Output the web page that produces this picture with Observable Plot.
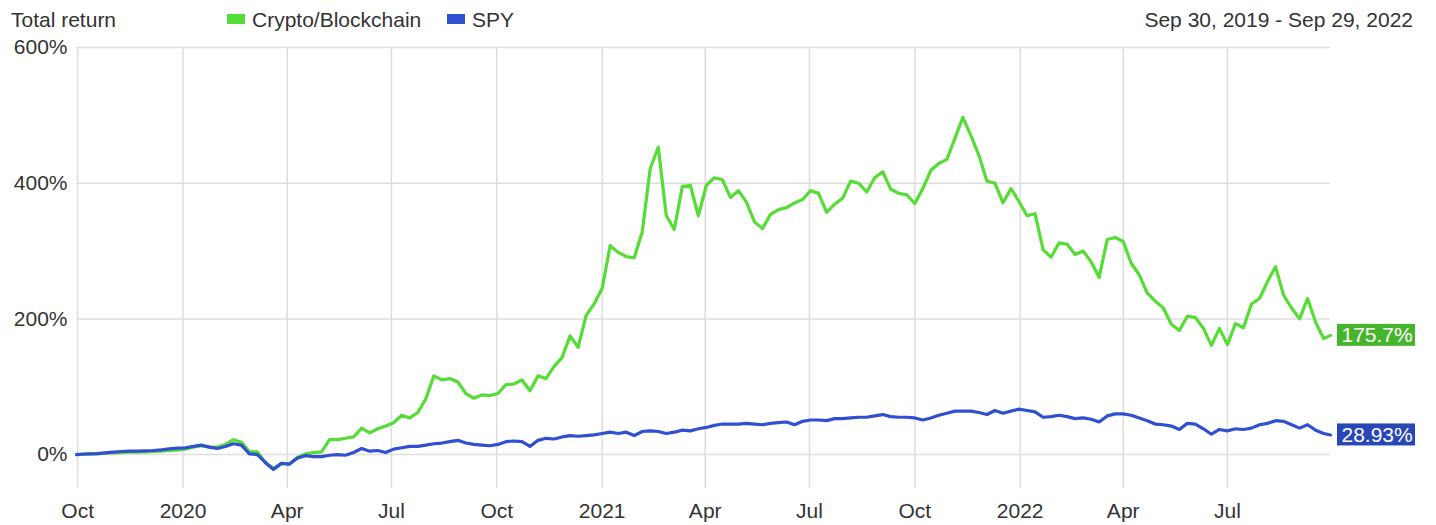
<!DOCTYPE html>
<html><head><meta charset="utf-8">
<script src="https://cdn.jsdelivr.net/npm/d3@7"></script>
<script src="https://cdn.jsdelivr.net/npm/@observablehq/plot@0.6"></script>
<style>
body{margin:0;background:#fff;font-family:"Liberation Sans",Arial,sans-serif;}
#wrap{width:1436px;height:525px;position:relative;overflow:hidden;background:#fff}
#header{position:relative;height:36px;width:1436px;color:#333;font-size:21px;line-height:21px}
#header span{position:absolute;white-space:nowrap}
.sw{width:18px;height:10px;top:14px}
</style></head><body>
<div id="wrap">
<div id="header">
<span style="left:11px;top:9px">Total return</span>
<span class="sw" style="left:227px;background:#55dd36"></span>
<span style="left:252px;top:9px">Crypto/Blockchain</span>
<span class="sw" style="left:447px;background:#3050d2"></span>
<span style="left:472px;top:9px">SPY</span>
<span style="right:23px;top:9px">Sep 30, 2019 - Sep 29, 2022</span>
</div>
<div id="chart"></div>
</div>
<script>
// Series names and colours
const seriesNames = ["Crypto/Blockchain", "SPY"];
const lineColors = ["#55dd36", "#3050d2"];
const labelColors = ["#47b52c", "#2946b6"];

// Weekly dates: start, Friday closes, final day
const startDate = "2019-09-30";
const endDate = "2022-09-29";
const dates = [new Date(startDate),
  ...d3.utcFriday.range(new Date("2019-10-04"), new Date("2022-09-24")),
  new Date(endDate)];

// Total return (%)
const crypto = [
0,
0.5,1,1,2,2.5,3,3.5,3.5,4,4.5,5,6,
6.5,8,11,13,11,11,15,22,18,4,4,-12,
-20,-13,-14,-4,1,3,4,22,22,24,26,39,
32,38,42,47,58,54,62,82,116,110,112,107,
90,83,88,87,90,103,104,110,94,116,112,130,
143,175,158,205,222,245,308,298,292,290,328,422,
453,352,332,395,397,352,397,408,405,379,389,372,
343,333,354,361,364,371,376,389,385,357,369,378,
403,400,387,408,417,391,385,383,370,392,419,429,
435,466,497,470,441,403,400,371,392,373,352,355,
302,291,312,310,295,300,284,261,317,320,314,282,
265,238,226,216,192,183,204,202,186,161,186,162,
193,187,222,230,255,277,235,216,200,230,195,171,
175.7
];
const spy = [
0,
0.5,1,1.5,2.5,3.5,4.5,5,5,5.5,6,7,8.5,
9.5,10,12,14,11,9,12,16,14,1,0,-12,
-22,-13,-14,-5,-1.5,-3,-3,-1,0,-1,3,9,
5,6,3,8,10,12,12,14,16,17,19,21,
17,15,14,13,15,19,20,19,12,21,24,23,
26,28,27,28,29,31,33,31,33,28,34,35,
34,31,33,36,35,38,40,43,45,45,45,46,
45,44,46,47,48,44,49,51,51,50,53,53,
54,55,55,57,59,56,55,55,54,51,54,58,
61,64,64,64,62,59,65,61,64,67,65,63,
55,56,58,56,53,54,52,48,57,60,60,58,
54,50,45,44,42,37,46,45,38,30,37,35,
38,37,39,44,46,50,49,44,39,44,36,31,
28.93
];
const endLabels = ["175.7%", "28.93%"];

// Axis ticks
const xTickDates = ["2019-10-01","2020-01-01","2020-04-01","2020-07-01","2020-10-01","2021-01-01","2021-04-01","2021-07-01","2021-10-01","2022-01-01","2022-04-01","2022-07-01"];
const xTickLabels = ["Oct","2020","Apr","Jul","Oct","2021","Apr","Jul","Oct","2022","Apr","Jul"];
const yTicks = [0, 200, 400, 600];
const yDomain = [-50, 600];

const xTicks = xTickDates.map(d => new Date(d));
const labelOf = new Map(xTicks.map((d, i) => [+d, xTickLabels[i]]));

const values = [crypto, spy];
const rows = [];
values.forEach((vals, s) => vals.forEach((v, i) => rows.push({date: dates[i], value: v, series: seriesNames[s]})));
const lastRows = values.map((vals, s) => ({date: dates[dates.length - 1], value: vals[vals.length - 1], series: seriesNames[s], label: endLabels[s], color: labelColors[s]}));

const chart = Plot.plot({
  width: 1436,
  height: 489,
  marginTop: 11,
  marginBottom: 37,
  marginLeft: 76,
  marginRight: 106,
  style: {fontFamily: '"Liberation Sans", Arial, sans-serif', fontSize: "21px", color: "#333", background: "#fff", overflow: "visible"},
  x: {type: "utc", domain: [new Date(startDate), new Date(endDate)], ticks: xTicks, tickFormat: d => labelOf.get(+d), tickSize: 0, tickPadding: 15, label: null},
  y: {domain: yDomain, ticks: yTicks, tickFormat: d => d + "%", tickSize: 0, tickPadding: 9, label: null},
  color: {domain: seriesNames, range: lineColors},
  marks: [
    Plot.ruleX(xTicks, {stroke: "#dedede", strokeWidth: 1.5}),
    Plot.ruleY(yTicks, {stroke: "#dedede", strokeWidth: 1.5}),
    Plot.line(rows, {x: "date", y: "value", z: "series", stroke: "series", strokeWidth: 3.2, strokeLinejoin: "round"}),
    Plot.rect(lastRows, {x1: "date", x2: "date", y1: "value", y2: "value", fill: "color", insetLeft: 7, insetRight: -85, insetTop: -11, insetBottom: -11}),
    Plot.text(lastRows, {x: "date", y: "value", text: "label", fill: "#fff", dx: 11, textAnchor: "start", fontSize: 21})
  ]
});
document.getElementById("chart").appendChild(chart);
</script>
</body></html>
